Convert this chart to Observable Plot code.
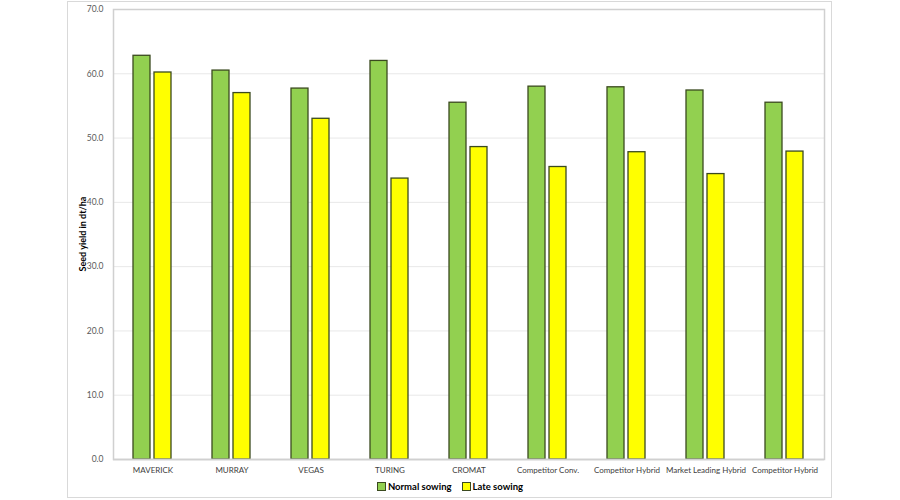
<!DOCTYPE html>
<html>
<head>
<meta charset="utf-8">
<script src="https://cdn.jsdelivr.net/npm/d3@7"></script>
<script src="https://cdn.jsdelivr.net/npm/@observablehq/plot@0.6"></script>
<style>
  html, body { margin: 0; padding: 0; background: #fff; }
  #wrap { position: relative; width: 900px; height: 500px; overflow: hidden; font-family: Lato, "Open Sans", sans-serif; }
  #outer { position: absolute; left: 67px; top: 1px; width: 765px; height: 497px; border: 1px solid #d9d9d9; box-sizing: border-box; }
  #chart { position: absolute; left: 0; top: 0; }
  #ylabel { position: absolute; left: 82px; top: 234px; transform: translate(-50%, -50%) rotate(-90deg); font-size: 9px; font-weight: bold; color: #000; white-space: nowrap; }
  #legend { position: absolute; left: 0; width: 900px; top: 481px; text-align: center; font-size: 9.5px; font-weight: bold; color: #000; }
  #legend span.item { display: inline-flex; align-items: center; margin: 0 5px; }
  #legend span.sw { display: inline-block; width: 7px; height: 7px; border: 1px solid #3b4a1f; margin-right: 2px; }
</style>
</head>
<body>
<div id="wrap">
  <div id="outer"></div>
  <div id="chart"></div>
  <div id="ylabel">Seed yield in dt/ha</div>
  <div id="legend"></div>
</div>
<script>
const categories = ["MAVERICK", "MURRAY", "VEGAS", "TURING", "CROMAT", "Competitor Conv.", "Competitor Hybrid", "Market Leading Hybrid", "Competitor Hybrid"];
const seriesNames = ["Normal sowing", "Late sowing"];
const normalSowing = [62.8, 60.5, 57.7, 62.0, 55.5, 58.0, 57.9, 57.4, 55.5];
const lateSowing = [60.2, 57.0, 53.0, 43.7, 48.6, 45.5, 47.8, 44.4, 47.9];
const yTicks = [0, 10, 20, 30, 40, 50, 60, 70];
const colors = ["#92d050", "#ffff00"];

const data = [];
categories.forEach((c, i) => {
  data.push({idx: i, series: seriesNames[0], value: normalSowing[i]});
  data.push({idx: i, series: seriesNames[1], value: lateSowing[i]});
});

const plot = Plot.plot({
  width: 900,
  height: 480,
  marginLeft: 112,
  marginRight: 75,
  marginTop: 9,
  marginBottom: 21,
  style: {fontFamily: "Lato, 'Open Sans', sans-serif", background: "transparent", color: "#595959"},
  fx: {domain: d3.range(categories.length), padding: 0, label: null, axis: null},
  x: {domain: seriesNames, paddingInner: 0.182, paddingOuter: 0.891, axis: null},
  y: {domain: [0, 70], ticks: yTicks, label: null},
  color: {domain: seriesNames, range: colors},
  marks: [
    Plot.gridY(yTicks.filter(d => d > 0), {stroke: "#e8e8e8", strokeOpacity: 1, strokeWidth: 1}),
    Plot.axisY(yTicks, {tickSize: 0, tickPadding: 10, tickFormat: d3.format(".1f"), fontSize: 8.5, fill: "#595959", label: null}),
    Plot.axisFx({anchor: "bottom", tickSize: 0, tickPadding: 8, fontSize: 8, fill: "#404040", tickFormat: i => categories[i], label: null}),
    Plot.barY(data, {fx: "idx", x: "series", y: "value", fill: "series", stroke: "#3b4a1f", strokeWidth: 1.3}),
    Plot.ruleY([0], {stroke: "#c8c8c8", strokeWidth: 1.3}),
    Plot.frame({facet: "super", stroke: "#d0d0d0", strokeWidth: 1.5})
  ]
});
document.getElementById("chart").appendChild(plot);

const legend = document.getElementById("legend");
seriesNames.forEach((s, i) => {
  const item = document.createElement("span");
  item.className = "item";
  const sw = document.createElement("span");
  sw.className = "sw";
  sw.style.background = colors[i];
  item.appendChild(sw);
  item.appendChild(document.createTextNode(s));
  legend.appendChild(item);
});
</script>
</body>
</html>
